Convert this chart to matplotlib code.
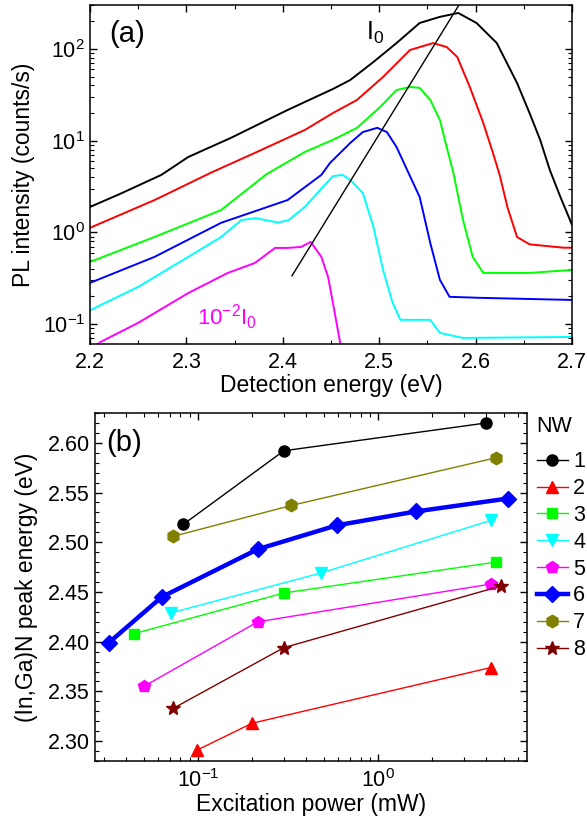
import matplotlib
matplotlib.use('Agg')
import matplotlib.pyplot as plt
from matplotlib.ticker import MultipleLocator, LogLocator, NullFormatter

plt.rcParams['font.family'] = ['Liberation Sans', 'DejaVu Sans']
plt.rcParams['mathtext.default'] = 'regular'
plt.rcParams['font.size'] = 15.5

# ---- panel (a): PL spectra (energy in eV, intensity in counts/s)
black_E = [2.200, 2.231, 2.274, 2.302, 2.346, 2.405, 2.452, 2.470, 2.494, 2.518, 2.542, 2.563,
           2.582, 2.601, 2.622, 2.643, 2.656, 2.667, 2.677, 2.688, 2.698, 2.700]
black_I = [1.89, 2.62, 4.23, 6.64, 10.7, 21.6, 36.6, 45.9, 72.1, 116, 192, 224,
           247, 192, 116, 42.6, 20.0, 10.2, 4.79, 2.43, 1.36, 1.21]

red_E = [2.200, 2.267, 2.326, 2.371, 2.423, 2.452, 2.477, 2.504, 2.532, 2.556, 2.570, 2.581,
         2.594, 2.608, 2.618, 2.625, 2.633, 2.643, 2.656, 2.691, 2.700]
red_I = [1.12, 2.25, 4.5, 7.35, 13.1, 20.0, 27.8, 49.5, 97.5, 116, 105, 81.8,
         38.5, 15.6, 7.35, 4.23, 1.89, 0.89, 0.74, 0.68, 0.68]

green_E = [2.200, 2.267, 2.336, 2.383, 2.423, 2.452, 2.477, 2.501, 2.518, 2.532, 2.542, 2.553,
           2.563, 2.570, 2.577, 2.587, 2.597, 2.608, 2.656, 2.700]
green_I = [0.475, 0.891, 1.75, 4.3, 7.54, 10.2, 13.8, 23.3, 35.7, 38.5, 37.6, 27.8,
           16.8, 8.53, 4.44, 1.36, 0.54, 0.361, 0.361, 0.389]

blue_E = [2.200, 2.267, 2.336, 2.405, 2.440, 2.449, 2.470, 2.483, 2.498, 2.508, 2.518, 2.529,
          2.542, 2.553, 2.563, 2.573, 2.605, 2.700]
blue_I = [0.281, 0.540, 1.27, 2.25, 4.23, 5.71, 9.44, 12.4, 13.8, 12.4, 8.53, 4.79,
          2.43, 0.766, 0.303, 0.198, 0.193, 0.183]

cyan_E = [2.201, 2.250, 2.302, 2.336, 2.357, 2.372, 2.385, 2.395, 2.406, 2.423, 2.440, 2.452,
          2.462, 2.470, 2.483, 2.494, 2.504, 2.514, 2.522, 2.553, 2.563, 2.587, 2.700]
cyan_I = [0.143, 0.254, 0.540, 0.89, 1.36, 1.43, 1.34, 1.28, 1.36, 1.90, 3.0, 4.1,
          4.23, 3.73, 2.69, 1.15, 0.389, 0.170, 0.111, 0.111, 0.080, 0.0705, 0.0723]

magenta_E = [2.200, 2.211, 2.250, 2.302, 2.343, 2.371, 2.392, 2.405, 2.419, 2.429, 2.440, 2.447,
             2.452, 2.459, 2.462]
magenta_I = [0.052, 0.0638, 0.103, 0.218, 0.361, 0.463, 0.676, 0.676, 0.693, 0.786, 0.540, 0.326,
             0.170, 0.0671, 0.046]

guide_E = [2.4095, 2.59]
guide_I = [0.335, 401]

spectra = [
    (black_E, black_I, 'black'),
    (red_E, red_I, '#ff0000'),
    (green_E, green_I, '#00ff00'),
    (blue_E, blue_I, '#0000ff'),
    (cyan_E, cyan_I, '#00ffff'),
    (magenta_E, magenta_I, '#ff00ff'),
]

# ---- panel (b): peak energy vs excitation power for each NW
nw_labels = ['1', '2', '3', '4', '5', '6', '7', '8']
nw_power = [
    [0.083, 0.30, 4.0],
    [0.099, 0.20, 4.24],
    [0.044, 0.30, 4.5],
    [0.071, 0.48, 4.24],
    [0.050, 0.215, 4.24],
    [0.032, 0.063, 0.215, 0.59, 1.63, 5.28],
    [0.073, 0.33, 4.52],
    [0.073, 0.30, 4.83],
]
nw_energy = [
    [2.518, 2.592, 2.620],
    [2.291, 2.318, 2.374],
    [2.408, 2.449, 2.480],
    [2.429, 2.469, 2.522],
    [2.355, 2.420, 2.458],
    [2.399, 2.445, 2.493, 2.517, 2.531, 2.544],
    [2.506, 2.537, 2.585],
    [2.333, 2.394, 2.456],
]
nw_colors = ['black', '#ff0000', '#00ff00', '#00ffff', '#ff00ff', '#0000ff', '#808000', '#800000']
nw_markers = ['o', '^', 's', 'v', 'p', 'D', 'h', '*']
nw_msize = [8, 9, 7, 9, 9, 8, 9, 10]
nw_lw = [1, 1, 1, 1, 1, 3.2, 1, 1]


def style_ticks(ax):
    ax.tick_params(which='both', direction='in', top=True, right=True, labelsize=15.5)
    ax.tick_params(which='major', length=5, width=1)
    ax.tick_params(which='minor', length=3, width=0.8)
    ax.tick_params(axis='x', which='major', pad=5.5)
    for s in ax.spines.values():
        s.set_linewidth(1.1)


fig = plt.figure(figsize=(5.87, 8.27), dpi=100)

ax1 = fig.add_axes([0.1533, 0.584, 0.8211, 0.410])
for E, I, c in spectra:
    ax1.plot(E, I, color=c, lw=1.4)
ax1.plot(guide_E, guide_I, color='black', lw=1)
ax1.set_yscale('log')
ax1.set_xlim(2.2, 2.7)
ax1.set_ylim(0.0605, 302)
ax1.xaxis.set_major_locator(MultipleLocator(0.1))
ax1.xaxis.set_minor_locator(MultipleLocator(0.05))
ax1.yaxis.set_minor_locator(LogLocator(base=10, subs=range(2, 10), numticks=20))
ax1.yaxis.set_minor_formatter(NullFormatter())
style_ticks(ax1)
ax1.set_xlabel('Detection energy (eV)', fontsize=16.5, labelpad=1)
ax1.set_ylabel('PL intensity (counts/s)', fontsize=16.5, labelpad=5.5)
ax1.text(0.04, 0.955, '(a)', transform=ax1.transAxes, fontsize=21, va='top', ha='left')
ax1.text(2.486, 150, r'$I_0$', fontsize=18, va='center', ha='left')
ax1.text(2.311, 0.12, r'$10^{-2}I_0$', fontsize=16, color='#ff00ff', va='center', ha='left')

ax2 = fig.add_axes([0.1618, 0.0798, 0.7360, 0.4208])
for i, lab in enumerate(nw_labels):
    ax2.plot(nw_power[i], nw_energy[i], color=nw_colors[i], marker=nw_markers[i],
             ms=nw_msize[i], lw=nw_lw[i], label=lab)
ax2.set_xscale('log')
ax2.set_xlim(0.0268, 6.73)
ax2.set_ylim(2.28, 2.63)
ax2.yaxis.set_major_locator(MultipleLocator(0.05))
ax2.yaxis.set_minor_locator(MultipleLocator(0.01))
ax2.yaxis.set_major_formatter(plt.FormatStrFormatter('%.2f'))
ax2.xaxis.set_minor_locator(LogLocator(base=10, subs=range(2, 10), numticks=20))
ax2.xaxis.set_minor_formatter(NullFormatter())
style_ticks(ax2)
ax2.set_xlabel('Excitation power (mW)', fontsize=16.5, labelpad=1)
ax2.set_ylabel('(In,Ga)N peak energy (eV)', fontsize=16.5, labelpad=7)
ax2.text(0.025, 0.955, '(b)', transform=ax2.transAxes, fontsize=21, va='top', ha='left')

leg = ax2.legend(title='NW', loc='upper left', bbox_to_anchor=(1.022, 0.99), frameon=False,
                 fontsize=15.5, title_fontsize=15.5, handlelength=1.45, handletextpad=0.25,
                 labelspacing=0.27, borderaxespad=0, borderpad=0)
leg._legend_box.align = 'left'
leg._legend_box.sep = 10

fig.savefig('out.png', dpi=100)
plt.close(fig)
